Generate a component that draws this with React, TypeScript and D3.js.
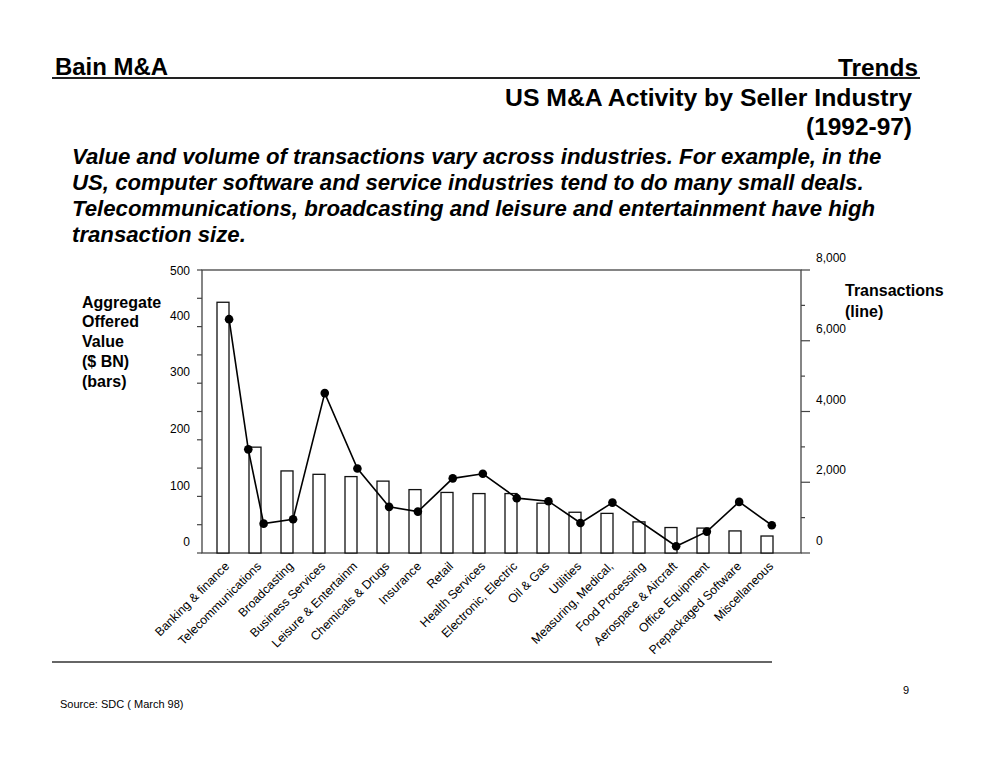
import React from 'react';
import * as d3 from 'd3';

const categories = [
  'Banking & finance',
  'Telecommunications',
  'Broadcasting',
  'Business Services',
  'Leisure & Entertainm',
  'Chemicals & Drugs',
  'Insurance',
  'Retail',
  'Health Services',
  'Electronic, Electric',
  'Oil & Gas',
  'Utilities',
  'Measuring, Medical,',
  'Food Processing',
  'Aerospace & Aircraft',
  'Office Equipment',
  'Prepackaged Software',
  'Miscellaneous',
];

// aggregate offered value, $ BN (bars)
const valueBn = [443, 187, 145, 139, 135, 127, 112, 107, 105, 105, 88, 72, 70, 55, 45, 44, 39, 30];

// transactions (line) and where each dot sits, in category units
const transactions = [6610, 2930, 830, 955, 4520, 2390, 1305, 1170, 2110, 2240, 1550, 1465, 850, 1425, 190, 605, 1445, 785];
const transactionAt = [0.19, 0.79, 1.27, 2.19, 3.18, 4.2, 5.19, 6.09, 7.18, 8.12, 9.18, 10.17, 11.17, 12.17, 14.16, 15.12, 16.13, 17.15];

const leftTicks = [0, 100, 200, 300, 400, 500];
const rightTicks = [0, 2000, 4000, 6000, 8000];

const paragraph = [
  'Value and volume of transactions vary across industries. For example, in the',
  'US, computer software and service industries tend to do many small deals.',
  'Telecommunications, broadcasting and leisure and entertainment have high',
  'transaction size.',
];

const FONT = 'Liberation Sans, Arial, sans-serif';
const NARROW = '"Liberation Sans Narrow", "Arial Narrow", Liberation Sans, sans-serif';

const App: React.FC = () => {
  const left = 202;
  const right = 801;
  const top = 270;
  const bottom = 553;

  const x = d3.scaleLinear().domain([0, categories.length - 1]).range([223, 767]);
  const yL = d3.scaleLinear().domain([0, 500]).range([bottom, top]);
  const yR = d3.scaleLinear().domain([0, 8000]).range([bottom, top]);
  const barW = 12;

  const linePts: [number, number][] = transactions.map((v, i) => [x(transactionAt[i]), yR(v)]);
  const line = d3.line()(linePts) || '';

  return (
    <svg width={990} height={765} style={{ position: 'absolute', left: 0, top: 0, background: '#fff' }}>
      {/* header */}
      <text x={55} y={75} fontFamily={NARROW} fontWeight="bold" fontSize={24} textLength={113} lengthAdjust="spacingAndGlyphs">Bain M&amp;A</text>
      <text x={918} y={76} textAnchor="end" fontFamily={NARROW} fontWeight="bold" fontSize={24} textLength={80} lengthAdjust="spacingAndGlyphs">Trends</text>
      <line x1={52} x2={920} y1={78} y2={78} stroke="#222" strokeWidth={2} />
      <text x={912} y={106} textAnchor="end" fontFamily={NARROW} fontWeight="bold" fontSize={24} textLength={407} lengthAdjust="spacingAndGlyphs">US M&amp;A Activity by Seller Industry</text>
      <text x={912} y={135} textAnchor="end" fontFamily={NARROW} fontWeight="bold" fontSize={24} textLength={106} lengthAdjust="spacingAndGlyphs">(1992-97)</text>

      {paragraph.map((t, i) => (
        <text key={i} x={72} y={164 + i * 26} fontFamily={FONT} fontWeight="bold" fontStyle="italic" fontSize={22.2}>{t}</text>
      ))}

      {/* axis titles */}
      {['Aggregate', 'Offered', 'Value', '($ BN)', '(bars)'].map((t, i) => (
        <text key={t} x={82} y={307.5 + i * 19.8} fontFamily={FONT} fontWeight="bold" fontSize={16}>{t}</text>
      ))}
      {['Transactions', '(line)'].map((t, i) => (
        <text key={t} x={845} y={296 + i * 20.5} fontFamily={FONT} fontWeight="bold" fontSize={16}>{t}</text>
      ))}

      {/* frame */}
      <rect x={left} y={top} width={right - left} height={bottom - top} fill="none" stroke="#444" strokeWidth={1.3} />

      {/* left axis */}
      {d3.range(0, 501, 50).map((v) => (
        <line key={v} x1={left - 5} x2={left} y1={yL(v)} y2={yL(v)} stroke="#444" strokeWidth={1.2} />
      ))}
      {leftTicks.map((v) => (
        <text key={v} x={190} y={Math.max(yL(v) - 11, top + 1)} dy="0.35em" textAnchor="end" fontFamily={FONT} fontSize={12}>{v}</text>
      ))}

      {/* right axis */}
      {d3.range(0, 8001, 1000).map((v) => (
        <line key={v} x1={right} x2={right + (v % 2000 === 0 ? 9 : 4)} y1={yR(v)} y2={yR(v)} stroke="#444" strokeWidth={1.2} />
      ))}
      {rightTicks.map((v) => (
        <text key={v} x={816} y={yR(v) - 12} dy="0.35em" fontFamily={FONT} fontSize={12}>{d3.format(',')(v)}</text>
      ))}

      {/* bars */}
      {valueBn.map((v, i) => (
        <rect key={i} x={x(i) - barW / 2} y={yL(v)} width={barW} height={bottom - yL(v)} fill="#fff" stroke="#111" strokeWidth={1.3} />
      ))}

      {/* line */}
      <path d={line} fill="none" stroke="#000" strokeWidth={1.6} />
      {linePts.map(([px, py], i) => (
        <circle key={i} cx={px} cy={py} r={4.3} fill="#000" />
      ))}

      {/* category labels */}
      {categories.map((c, i) => (
        <text key={c} transform={`translate(${x(i) + 7},${567}) rotate(-45)`} textAnchor="end" fontFamily={FONT} fontSize={12.3}>{c}</text>
      ))}

      {/* footer */}
      <line x1={52} x2={772} y1={662} y2={662} stroke="#333" strokeWidth={1.5} />
      <text x={903} y={694} fontFamily={FONT} fontSize={11}>9</text>
      <text x={60} y={708} fontFamily={FONT} fontSize={11}>Source: SDC ( March 98)</text>
    </svg>
  );
};

export default App;
